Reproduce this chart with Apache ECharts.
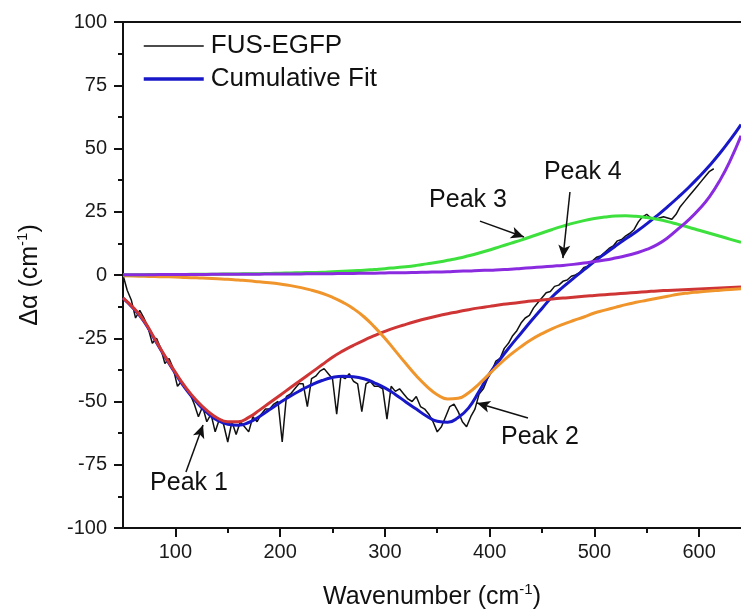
<!DOCTYPE html>
<html><head><meta charset="utf-8">
<script src="https://cdn.jsdelivr.net/npm/echarts@6/dist/echarts.min.js"></script>
<style>html,body{margin:0;padding:0;background:#fff}#c{width:741px;height:611px}</style>
</head><body><div id="c"></div>
<script>
// ---- data ----
const fitWavenumber = [50,60,70,80,90,100,110,120,130,140,150,160,170,180,190,200,210,220,230,240,250,260,270,280,290,300,310,320,330,340,350,360,370,380,390,400,410,420,430,440,450,460,470,480,490,500,510,520,530,540,550,560,570,580,590,600,610,620,630,640];
const cumulativeFit = [-9.1,-13.2,-18.3,-25.3,-32.3,-38.9,-45.1,-50.1,-54.3,-57.4,-59,-59.4,-58.3,-56,-53.2,-50.4,-47.8,-45.5,-43.4,-41.7,-40.5,-40,-40.2,-41,-42.6,-44.6,-47.2,-50.2,-53,-55.8,-57.8,-58.2,-56.3,-52.5,-46,-39,-33.3,-28,-23,-18,-13.2,-8.5,-4.8,-1.3,2,5.3,8.4,11.4,14.3,17.1,20.2,23.5,27,30.7,34.6,38.8,43.3,48.2,53.6,59.5];
const peak1 = [-9,-13,-18,-25,-32,-38.5,-44.5,-49.5,-53.5,-56.5,-58,-58,-56.3,-53.5,-50.5,-47.5,-44.5,-41.5,-38.5,-35.5,-32.5,-30,-27.8,-25.8,-24,-22.3,-20.8,-19.5,-18.3,-17.2,-16.2,-15.3,-14.5,-13.7,-13,-12.4,-11.8,-11.3,-10.8,-10.3,-9.9,-9.5,-9.1,-8.8,-8.4,-8.1,-7.8,-7.5,-7.2,-6.9,-6.6,-6.3,-6.1,-5.9,-5.7,-5.5,-5.3,-5.1,-4.9,-4.7];
const peak2 = [-0.3,-0.4,-0.5,-0.6,-0.7,-0.8,-1,-1.1,-1.3,-1.5,-1.7,-2,-2.3,-2.7,-3.1,-3.6,-4.2,-5,-6,-7.2,-8.8,-10.8,-13.3,-16.5,-20.5,-25,-30,-35,-39.8,-44,-47.3,-49,-48.7,-46.5,-43,-39,-35,-31.5,-28.3,-25.5,-23.2,-21.2,-19.5,-18,-16.6,-15,-13.9,-12.8,-11.7,-10.8,-10,-9.2,-8.4,-7.6,-7.1,-6.7,-6.3,-6,-5.7,-5.4];
const peak3 = [0.1,0.1,0.1,0.2,0.2,0.2,0.2,0.3,0.3,0.3,0.4,0.4,0.5,0.5,0.6,0.7,0.8,0.9,1,1.1,1.3,1.5,1.7,1.9,2.2,2.5,2.9,3.3,3.8,4.4,5,5.8,6.6,7.6,8.7,9.9,11.2,12.5,13.8,15.2,16.6,18,19.3,20.5,21.5,22.3,22.9,23.3,23.4,23.2,22.7,22,21.1,20,18.9,17.7,16.5,15.3,14.1,12.9];
const peak4 = [0.1,0.1,0.1,0.1,0.2,0.2,0.2,0.2,0.2,0.3,0.3,0.3,0.3,0.3,0.4,0.4,0.4,0.4,0.5,0.5,0.5,0.6,0.6,0.7,0.7,0.8,0.9,0.9,1,1.1,1.2,1.3,1.5,1.6,1.8,1.9,2.1,2.3,2.6,2.9,3.2,3.5,3.8,4.2,4.7,5.3,5.9,6.7,7.6,8.7,10.1,12,14.7,18.2,21.8,26,31,37.5,45.5,55];
const measWavenumber = [50,54,58,62,66,70,74,78,82,86,90,94,98,102,106,110,114,118,122,126,130,134,138,142,146,150,154,158,162,166,170,174,178,182,186,190,194,198,202,206,210,214,218,222,226,230,234,238,242,246,250,254,258,262,266,270,274,278,282,286,290,294,298,302,306,310,314,318,322,326,330,334,338,342,346,350,354,358,362,366,370,374,378,382,386,390,394,398,402,406,410,414,418,422,426,430,434,438,442,446,450,454,458,462,466,470,474,478,482,486,490,494,498,502,506,510,514,518,522,526,530,534,538,542,546,550,554,558,562,566,570,574,578,582,586,590,594,598,602,606,610,614];
const fusEgfp = [0,-6,-10,-17,-14,-17,-21,-27,-25,-29,-35,-33,-37,-44,-42,-45,-47,-51,-56,-52,-58,-55,-62,-57,-59,-66,-58,-63,-58,-60,-62,-56,-58,-55,-53,-53,-51,-50,-66,-48,-47,-45,-43,-43,-52,-41,-40,-38,-37,-39,-41,-55,-40,-41,-39,-42,-43,-54,-43,-42,-44,-44,-45,-57,-44,-46,-45,-47,-49,-50,-48,-52,-53,-55,-58,-62,-60,-56,-52,-51,-54,-58,-60,-56,-53,-47,-45,-41,-38,-34,-33,-29,-27,-24,-22,-19,-17,-16,-13,-11,-9,-7,-6.5,-4.5,-4,-2.5,-2,-0.5,0,1,3,3.5,5.5,7,7.5,9,10.5,11.5,13.5,14,15.5,16.5,18,21,23,24,22.5,22,22.5,23,22.5,22,24,27,29,31,33,35,37,39,41,42];
const xMajorTicks = [100,200,300,400,500,600];
const xMinorTicks = [150,250,350,450,550];
const annotations = [
  {text:'Peak 1', at:[113,-82.2], tail:[110.1,-77.9], head:[126.4,-59.3]},
  {text:'Peak 2', at:[448,-64], tail:[436.6,-56.5], head:[388,-50.6]},
  {text:'Peak 3', at:[379.4,29.6], tail:[390.8,21.3], head:[432.8,15]},
  {text:'Peak 4', at:[489,40.7], tail:[476.7,32.8], head:[470,6.7]}
];
// ---- chart ----
const FONT = '"Liberation Sans", Arial, sans-serif';
const pairs = (xs, ys) => xs.map((x, i) => [x, ys[i]]);
const chart = echarts.init(document.getElementById('c'), null, {renderer: 'canvas'});
const line = (name, xs, ys, color, width, extra) => Object.assign({
  name, type: 'line', data: pairs(xs, ys), symbol: 'none', smooth: true,
  lineStyle: {color, width}, itemStyle: {color}, animation: false, silent: true
}, extra || {});
const nameRich = {
  t: {fontSize: 25, fontFamily: FONT, color: '#111', lineHeight: 30},
  s: {fontSize: 15, fontFamily: FONT, color: '#111', verticalAlign: 'top', lineHeight: 14}
};
chart.setOption({
  animation: false,
  backgroundColor: '#fff',
  grid: {left: 123, right: 0, top: 22, bottom: 83, containLabel: false, outerBoundsMode: 'none'},
  legend: {
    data: [
      {name: 'FUS-EGFP', lineStyle: {width: 1.5, color: '#111111'}},
      {name: 'Cumulative Fit', lineStyle: {width: 3.5, color: '#1818c8'}}
    ],
    orient: 'vertical', left: 142, top: 31, padding: 0,
    itemWidth: 60, itemHeight: 14, itemGap: 3,
    itemStyle: {color: 'rgba(0,0,0,0)', borderColor: 'rgba(0,0,0,0)', borderWidth: 0, opacity: 0},
    textStyle: {fontSize: 26, lineHeight: 30, color: '#111', fontFamily: FONT, padding: [0, 0, 0, 2]}
  },
  xAxis: [
    {type: 'value', min: 50, max: 640, position: 'bottom',
     name: '{t|Wavenumber (cm}{s|-1}{t|)}', nameLocation: 'middle', nameGap: 54,
     nameTextStyle: {rich: nameRich},
     axisLine: {onZero: false, lineStyle: {color: '#111', width: 2}},
     axisTick: {customValues: xMajorTicks, length: 9, lineStyle: {color: '#111', width: 2}},
     axisLabel: {customValues: xMajorTicks, fontSize: 20, color: '#1a1a1a', fontFamily: FONT, margin: 14},
     splitLine: {show: false}},
    {type: 'value', min: 50, max: 640, position: 'bottom',
     axisLine: {show: false, onZero: false},
     axisTick: {customValues: xMinorTicks, length: 5, lineStyle: {color: '#111', width: 2}},
     axisLabel: {show: false}, splitLine: {show: false}},
    {type: 'value', min: 50, max: 640, position: 'top',
     axisLine: {onZero: false, lineStyle: {color: '#111', width: 2}},
     axisTick: {show: false}, axisLabel: {show: false}, splitLine: {show: false}}
  ],
  yAxis: {
    type: 'value', min: -100, max: 100, interval: 25,
    name: '{t|Δα (cm}{s|-1}{t|)}', nameLocation: 'middle', nameGap: 78, nameRotate: 90,
    nameTextStyle: {rich: nameRich},
    axisLine: {show: true, onZero: false, lineStyle: {color: '#111', width: 2}},
    axisTick: {show: true, length: 9, lineStyle: {color: '#111', width: 2}},
    minorTick: {show: true, splitNumber: 2, length: 5, lineStyle: {color: '#111', width: 2}},
    axisLabel: {fontSize: 20, color: '#1a1a1a', fontFamily: FONT, margin: 16},
    splitLine: {show: false}, minorSplitLine: {show: false}
  },
  series: [
    line('FUS-EGFP', measWavenumber, fusEgfp, '#111111', 1.5, {smooth: false,
      markLine: {
        silent: true, animation: false, symbol: ['none', 'arrow'], symbolSize: [9, 13],
        lineStyle: {color: '#111', width: 1.5, type: 'solid'}, label: {show: false},
        data: annotations.map(a => [{coord: a.tail}, {coord: a.head}])
      }}),
    line('Cumulative Fit', fitWavenumber, cumulativeFit, '#1818c8', 3),
    line('Peak 1', fitWavenumber, peak1, '#cf3535', 3),
    line('Peak 2', fitWavenumber, peak2, '#f0952b', 3),
    line('Peak 3', fitWavenumber, peak3, '#3de03d', 3),
    line('Peak 4', fitWavenumber, peak4, '#8a2be0', 3)
  ]
});
const texts = annotations.map(a => {
  const p = chart.convertToPixel({xAxisIndex: 0, yAxisIndex: 0}, a.at);
  return {type: 'text', x: p[0], y: p[1], silent: true,
    style: {text: a.text, fill: '#111', font: '25px ' + FONT, textAlign: 'center', textVerticalAlign: 'middle'}};
});
chart.setOption({graphic: texts});
</script></body></html>
